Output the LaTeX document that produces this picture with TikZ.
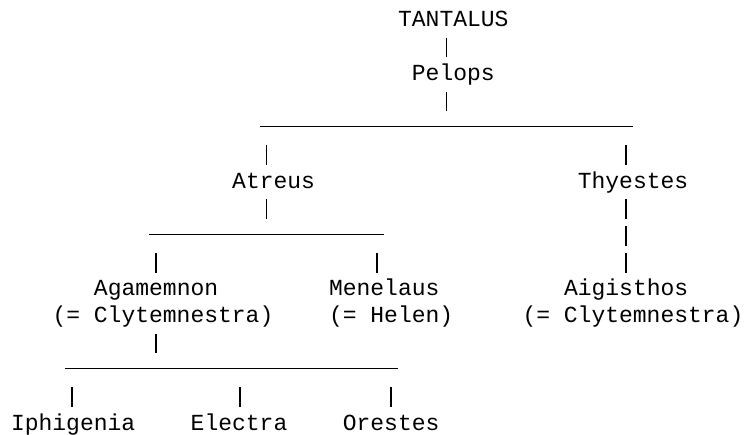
\documentclass[tikz,border=0pt]{standalone}
\usepackage{fontspec}
\setmonofont{Liberation Mono}
\usepackage{tikz}

\tikzset{
  person/.style={anchor=base west, inner sep=0pt, text height=16pt, text depth=5pt, font=\ttfamily\fontsize{23}{27}\selectfont},
  vbar/.style={line width=1.5pt},
  hrule/.style={line width=1.3pt},
  link/.style={vbar, shorten <=5.9pt, shorten >=6.9pt},
  tojoin/.style={vbar, shorten <=5.9pt, shorten >=15.3pt},
  fromjoin/.style={vbar, shorten <=18.5pt, shorten >=6.9pt},
}

\begin{document}
\begin{tikzpicture}[x=1pt,y=1pt,yscale=-1,xscale=1]
    \useasboundingbox (0,0) rectangle (744,435);

    % Text Node
    \draw (397.9,26.7) node [person] (tantalus) {TANTALUS};
    % Text Node
    \draw (411.7,80.5) node [person] (pelops) {Pelops};
    % Text Node
    \draw (232.0,188.1) node [person] (atreus) {Atreus};
    % Text Node
    \draw (577.6,188.1) node [person] (thyestes) {Thyestes};
    % Text Node
    \draw (93.75,295.7) node [person] (agamemnon) {Agamemnon};
    % Text Node
    \draw (52.3,322.6) node [person] (agamemnonSp) {(= Clytemnestra)};
    % Text Node
    \draw (328.8,295.7) node [person] (menelaus) {Menelaus};
    % Text Node
    \draw (328.8,322.6) node [person] (menelausSp) {(= Helen)};
    % Text Node
    \draw (563.8,295.7) node [person] (aigisthos) {Aigisthos};
    % Text Node
    \draw (522.3,322.6) node [person] (aigisthosSp) {(= Clytemnestra)};
    % Text Node
    \draw (10.8,430.2) node [person] (iphigenia) {Iphigenia};
    % Text Node
    \draw (190.5,430.2) node [person] (electra) {Electra};
    % Text Node
    \draw (342.6,430.2) node [person] (orestes) {Orestes};

    %Junctions on the rules
    \coordinate (pelops-down) at (446.3,126.7);
    \coordinate (atreus-up) at (266.6,126.7);
    \coordinate (thyestes-up) at (626.0,126.7);
    \coordinate (atreus-down) at (266.6,234.3);
    \coordinate (agamemnon-up) at (156.0,234.3);
    \coordinate (menelaus-up) at (377.2,234.3);
    \coordinate (agamemnon-down) at (156.0,368.8);
    \coordinate (iphigenia-up) at (72.0,368.8);
    \coordinate (electra-up) at (239.9,368.8);
    \coordinate (orestes-up) at (390.9,368.8);

    %Straight Lines
    \draw [link] (tantalus.south -| pelops-down) -- (pelops.north -| pelops-down);
    \draw [tojoin] (pelops.south -| pelops-down) -- (pelops-down);
    \draw [hrule] ([xshift=-6.9pt]atreus-up) -- ([xshift=6.9pt]thyestes-up);
    \draw [fromjoin] (atreus-up) -- (atreus.north -| atreus-up);
    \draw [fromjoin] (thyestes-up) -- (thyestes.north -| thyestes-up);

    %Straight Lines
    \draw [tojoin] (atreus.south -| atreus-down) -- (atreus-down);
    \draw [hrule] ([xshift=-6.9pt]agamemnon-up) -- ([xshift=6.9pt]menelaus-up);
    \draw [fromjoin] (agamemnon-up) -- (agamemnon.north -| agamemnon-up);
    \draw [fromjoin] (menelaus-up) -- (menelaus.north -| menelaus-up);
    \draw [link, dash pattern=on 20pt off 6.9pt] (thyestes.south -| thyestes-up) -- (aigisthos.north -| thyestes-up);

    %Straight Lines
    \draw [tojoin] (agamemnonSp.south -| agamemnon-down) -- (agamemnon-down);
    \draw [hrule] ([xshift=-6.9pt]iphigenia-up) -- ([xshift=6.9pt]orestes-up);
    \draw [fromjoin] (iphigenia-up) -- (iphigenia.north -| iphigenia-up);
    \draw [fromjoin] (electra-up) -- (electra.north -| electra-up);
    \draw [fromjoin] (orestes-up) -- (orestes.north -| orestes-up);

\end{tikzpicture}
\end{document}
